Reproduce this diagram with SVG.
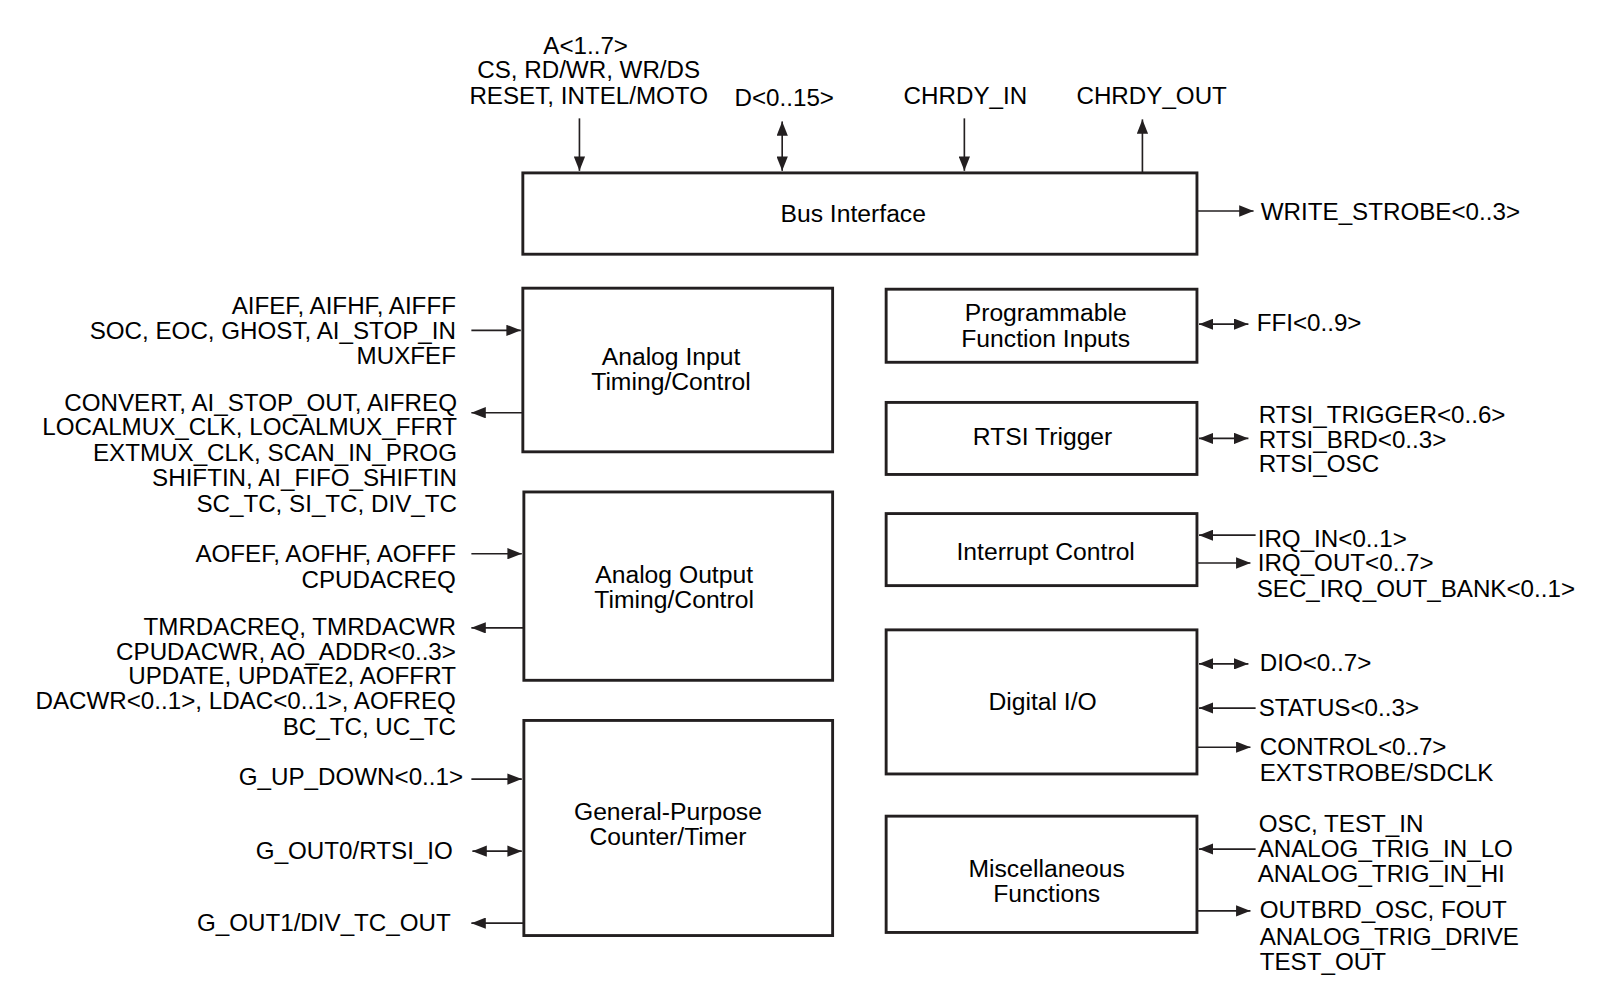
<svg xmlns="http://www.w3.org/2000/svg" width="1614" height="1008" viewBox="0 0 1614 1008">
<defs>
<marker id="ah" viewBox="0 0 14 11" refX="14" refY="5.5" markerWidth="14" markerHeight="11" markerUnits="userSpaceOnUse" orient="auto-start-reverse">
<path d="M0,0 L14,5.5 L0,11 z" fill="#231f20"/>
</marker>
</defs>
<style>
.box{fill:#fff;stroke:#231f20;stroke-width:2.8}
.t{font-family:"Liberation Sans",Arial,sans-serif;font-size:23.5px;fill:#000}
.bt{font-family:"Liberation Sans",Arial,sans-serif;font-size:24px;fill:#000;text-anchor:middle}
.r{text-anchor:end}
.m{text-anchor:middle}
.c{stroke:#231f20;stroke-width:1.6;fill:none}
.a{marker-end:url(#ah)}
.b{marker-start:url(#ah);marker-end:url(#ah)}
</style>
<rect width="1614" height="1008" fill="#fff"/>
<g transform="scale(1.0292)">
<g id="bus">
<rect class="box" x="508" y="168" width="655" height="79"/>
<text class="bt" x="829" y="216">Bus Interface</text>
</g>
<g id="ai">
<rect class="box" x="508" y="280" width="301" height="159"/>
<text class="bt" x="652" y="355">Analog Input</text>
<text class="bt" x="652" y="379">Timing/Control</text>
</g>
<g id="ao">
<rect class="box" x="509" y="478" width="300" height="183"/>
<text class="bt" x="655" y="566">Analog Output</text>
<text class="bt" x="655" y="591">Timing/Control</text>
</g>
<g id="gpct">
<rect class="box" x="509" y="700" width="300" height="209"/>
<text class="bt" x="649" y="797">General-Purpose</text>
<text class="bt" x="649" y="821">Counter/Timer</text>
</g>
<g id="pfi">
<rect class="box" x="861" y="281" width="302" height="71"/>
<text class="bt" x="1016" y="312">Programmable</text>
<text class="bt" x="1016" y="337">Function Inputs</text>
</g>
<g id="rtsi">
<rect class="box" x="861" y="391" width="302" height="70"/>
<text class="bt" x="1013" y="432">RTSI Trigger</text>
</g>
<g id="irq">
<rect class="box" x="861" y="499" width="302" height="70"/>
<text class="bt" x="1016" y="544">Interrupt Control</text>
</g>
<g id="dio">
<rect class="box" x="861" y="612" width="302" height="140"/>
<text class="bt" x="1013" y="690">Digital I/O</text>
</g>
<g id="misc">
<rect class="box" x="861" y="793" width="302" height="113"/>
<text class="bt" x="1017" y="852">Miscellaneous</text>
<text class="bt" x="1017" y="876">Functions</text>
</g>

<g id="connectors">
<line class="c a" x1="563" y1="115" x2="563" y2="166"/>
<line class="c b" x1="760" y1="118" x2="760" y2="166"/>
<line class="c a" x1="937" y1="115" x2="937" y2="166"/>
<line class="c a" x1="1110" y1="168" x2="1110" y2="116"/>
<line class="c a" x1="1163" y1="205" x2="1218" y2="205"/>
<line class="c a" x1="458" y1="321" x2="506" y2="321"/>
<line class="c a" x1="508" y1="401" x2="458" y2="401"/>
<line class="c a" x1="458" y1="538" x2="507" y2="538"/>
<line class="c a" x1="509" y1="610" x2="458" y2="610"/>
<line class="c a" x1="458" y1="757" x2="507" y2="757"/>
<line class="c b" x1="459" y1="827" x2="507" y2="827"/>
<line class="c a" x1="509" y1="897" x2="458" y2="897"/>
<line class="c b" x1="1165" y1="315" x2="1213" y2="315"/>
<line class="c b" x1="1165" y1="426" x2="1213" y2="426"/>
<line class="c a" x1="1220" y1="520" x2="1165" y2="520"/>
<line class="c a" x1="1163" y1="547" x2="1215" y2="547"/>
<line class="c b" x1="1165" y1="645" x2="1213" y2="645"/>
<line class="c a" x1="1220" y1="688" x2="1165" y2="688"/>
<line class="c a" x1="1163" y1="726" x2="1215" y2="726"/>
<line class="c a" x1="1220" y1="825" x2="1165" y2="825"/>
<line class="c a" x1="1163" y1="885" x2="1215" y2="885"/>
</g>

<g id="labels">
<text class="t m" x="569" y="52">A&lt;1..7&gt;</text>
<text class="t m" x="572" y="76">CS, RD/WR, WR/DS</text>
<text class="t m" x="572" y="101">RESET, INTEL/MOTO</text>
<text class="t m" x="762" y="103">D&lt;0..15&gt;</text>
<text class="t m" x="938" y="101">CHRDY_IN</text>
<text class="t m" x="1119" y="101">CHRDY_OUT</text>
<text class="t" x="1225" y="214">WRITE_STROBE&lt;0..3&gt;</text>

<text class="t r" x="443" y="305">AIFEF, AIFHF, AIFFF</text>
<text class="t r" x="443" y="329">SOC, EOC, GHOST, AI_STOP_IN</text>
<text class="t r" x="443" y="354">MUXFEF</text>
<text class="t r" x="444" y="399">CONVERT, AI_STOP_OUT, AIFREQ</text>
<text class="t r" x="444" y="423">LOCALMUX_CLK, LOCALMUX_FFRT</text>
<text class="t r" x="444" y="448">EXTMUX_CLK, SCAN_IN_PROG</text>
<text class="t r" x="444" y="472">SHIFTIN, AI_FIFO_SHIFTIN</text>
<text class="t r" x="444" y="497">SC_TC, SI_TC, DIV_TC</text>

<text class="t r" x="443" y="546">AOFEF, AOFHF, AOFFF</text>
<text class="t r" x="443" y="571">CPUDACREQ</text>
<text class="t r" x="443" y="617">TMRDACREQ, TMRDACWR</text>
<text class="t r" x="443" y="641">CPUDACWR, AO_ADDR&lt;0..3&gt;</text>
<text class="t r" x="443" y="665">UPDATE, UPDATE2, AOFFRT</text>
<text class="t r" x="443" y="689">DACWR&lt;0..1&gt;, LDAC&lt;0..1&gt;, AOFREQ</text>
<text class="t r" x="443" y="714">BC_TC, UC_TC</text>

<text class="t r" x="450" y="763">G_UP_DOWN&lt;0..1&gt;</text>
<text class="t r" x="440" y="835">G_OUT0/RTSI_IO</text>
<text class="t r" x="438" y="905">G_OUT1/DIV_TC_OUT</text>

<text class="t" x="1221" y="322">FFI&lt;0..9&gt;</text>
<text class="t" x="1223" y="411">RTSI_TRIGGER&lt;0..6&gt;</text>
<text class="t" x="1223" y="435">RTSI_BRD&lt;0..3&gt;</text>
<text class="t" x="1223" y="459">RTSI_OSC</text>
<text class="t" x="1222" y="531">IRQ_IN&lt;0..1&gt;</text>
<text class="t" x="1222" y="555">IRQ_OUT&lt;0..7&gt;</text>
<text class="t" x="1221" y="580">SEC_IRQ_OUT_BANK&lt;0..1&gt;</text>
<text class="t" x="1224" y="652">DIO&lt;0..7&gt;</text>
<text class="t" x="1223" y="696">STATUS&lt;0..3&gt;</text>
<text class="t" x="1224" y="734">CONTROL&lt;0..7&gt;</text>
<text class="t" x="1224" y="759">EXTSTROBE/SDCLK</text>
<text class="t" x="1223" y="808">OSC, TEST_IN</text>
<text class="t" x="1222" y="833">ANALOG_TRIG_IN_LO</text>
<text class="t" x="1222" y="857">ANALOG_TRIG_IN_HI</text>
<text class="t" x="1224" y="892">OUTBRD_OSC, FOUT</text>
<text class="t" x="1224" y="918">ANALOG_TRIG_DRIVE</text>
<text class="t" x="1224" y="942">TEST_OUT</text>
</g>
</g>
</svg>
